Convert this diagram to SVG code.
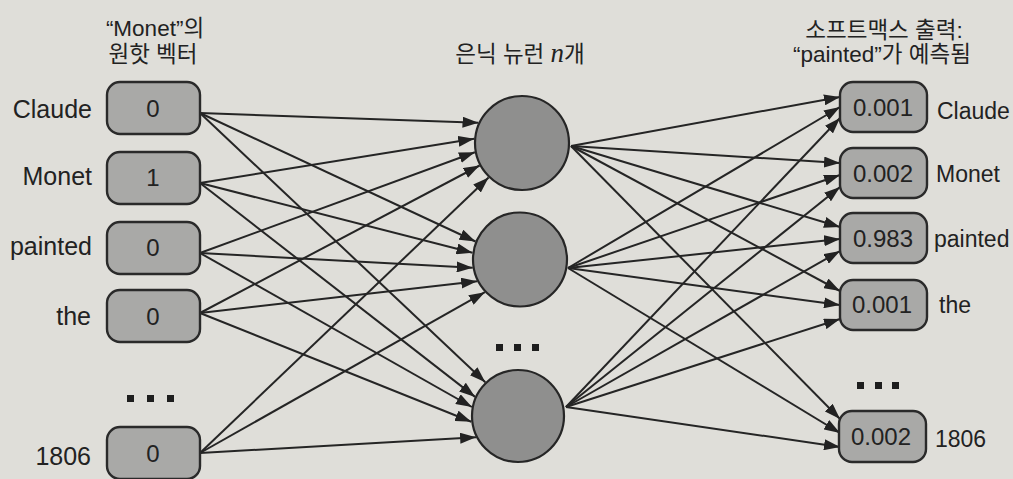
<svg xmlns="http://www.w3.org/2000/svg" width="1013" height="479" viewBox="0 0 1013 479">
<defs>
<style>
.bg{fill:#dfded9}
.box{fill:#a9a9a7;stroke:#2a2a2a;stroke-width:2.4}
.neuron{fill:#8f8f8e;stroke:#262626;stroke-width:2.2}
.c line{stroke:#252525;stroke-width:2;marker-end:url(#ah)}
text{font-family:"Liberation Sans","Noto Sans CJK KR",sans-serif;fill:#222}
.lbl{font-size:25px;text-anchor:end}
.rl{font-size:23px}
.val{font-size:24px;text-anchor:middle}
.title{font-size:22.5px;text-anchor:middle}
.it{font-family:"Liberation Serif",serif;font-style:italic;font-size:27px}
.dot{fill:#1e1e1e}
</style>
<marker id="ah" markerUnits="userSpaceOnUse" markerWidth="16" markerHeight="11" refX="16" refY="5.5" orient="auto">
<path d="M0,0 L16,5.5 L0,11 z" fill="#222"/>
</marker>
</defs>
<rect class="bg" x="0" y="0" width="1013" height="479"/>

<g id="titles">
<text class="title" x="155" y="36">“Monet”의</text>
<text class="title" x="153" y="62">원핫 벡터</text>
<text class="title" x="520" y="62">은닉 뉴런 <tspan class="it">n</tspan>개</text>
<text class="title" x="884" y="38">소프트맥스 출력:</text>
<text class="title" x="882" y="62">“painted”가 예측됨</text>
</g>

<g id="connectors" class="c">
<!-- input to hidden 1 -->
<line x1="200" y1="113" x2="478.5" y2="122.7"/>
<line x1="200" y1="183" x2="474.2" y2="138.8"/>
<line x1="200" y1="253" x2="474.9" y2="152.2"/>
<line x1="200" y1="313" x2="479.6" y2="165.5"/>
<line x1="200" y1="453" x2="488.6" y2="177.5"/>
<!-- input to hidden 2 -->
<line x1="200" y1="113" x2="475.5" y2="241.5"/>
<line x1="200" y1="183" x2="472.5" y2="252.8"/>
<line x1="200" y1="253" x2="472.7" y2="267.8"/>
<line x1="200" y1="313" x2="477.2" y2="281.3"/>
<line x1="200" y1="453" x2="484.9" y2="292.2"/>
<!-- input to hidden 3 -->
<line x1="200" y1="113" x2="485.3" y2="382.2"/>
<line x1="200" y1="183" x2="475.1" y2="396.9"/>
<line x1="200" y1="253" x2="471.9" y2="407"/>
<line x1="200" y1="313" x2="471.3" y2="421.7"/>
<line x1="200" y1="453" x2="476.1" y2="437.3"/>
<!-- hidden 1 to output -->
<line x1="571" y1="146" x2="840" y2="97"/>
<line x1="571" y1="146" x2="840" y2="163"/>
<line x1="571" y1="146" x2="840" y2="227"/>
<line x1="571" y1="146" x2="840" y2="291"/>
<line x1="571" y1="146" x2="840" y2="419"/>
<!-- hidden 2 to output -->
<line x1="568" y1="268" x2="840" y2="107"/>
<line x1="568" y1="268" x2="840" y2="175"/>
<line x1="568" y1="268" x2="840" y2="239"/>
<line x1="568" y1="268" x2="840" y2="305"/>
<line x1="568" y1="268" x2="840" y2="433"/>
<!-- hidden 3 to output -->
<line x1="566" y1="407" x2="840" y2="118"/>
<line x1="566" y1="407" x2="840" y2="187"/>
<line x1="566" y1="407" x2="840" y2="251"/>
<line x1="566" y1="407" x2="840" y2="319"/>
<line x1="566" y1="407" x2="840" y2="447"/>
</g>

<g id="in-claude"><rect class="box" x="107" y="82" width="93" height="52" rx="13"/><text class="val" x="153" y="117">0</text><text class="lbl" x="92" y="118">Claude</text></g>
<g id="in-monet"><rect class="box" x="107" y="152" width="93" height="52" rx="13"/><text class="val" x="153" y="186">1</text><text class="lbl" x="92" y="185">Monet</text></g>
<g id="in-painted"><rect class="box" x="107" y="222" width="93" height="52" rx="13"/><text class="val" x="153" y="256">0</text><text class="lbl" x="92" y="255">painted</text></g>
<g id="in-the"><rect class="box" x="107" y="290" width="93" height="52" rx="13"/><text class="val" x="153" y="325">0</text><text class="lbl" x="91" y="325">the</text></g>
<g id="in-dots"><rect class="dot" x="127" y="395" width="7" height="7"/><rect class="dot" x="147" y="395" width="7" height="7"/><rect class="dot" x="167" y="395" width="7" height="7"/></g>
<g id="in-1806"><rect class="box" x="107" y="427" width="93" height="52" rx="13"/><text class="val" x="153" y="462">0</text><text class="lbl" x="91" y="465">1806</text></g>

<g id="hidden-1"><circle class="neuron" cx="522" cy="143" r="47"/></g>
<g id="hidden-2"><circle class="neuron" cx="520" cy="259.5" r="47"/></g>
<g id="hidden-dots"><rect class="dot" x="496" y="344" width="7" height="7"/><rect class="dot" x="514" y="344" width="7" height="7"/><rect class="dot" x="532" y="344" width="7" height="7"/></g>
<g id="hidden-3"><circle class="neuron" cx="518" cy="416" r="46"/></g>

<g id="out-claude"><rect class="box" x="840" y="82" width="87" height="50" rx="13"/><text class="val" x="883" y="116">0.001</text><text class="rl" x="937" y="119">Claude</text></g>
<g id="out-monet"><rect class="box" x="840" y="148" width="87" height="50" rx="13"/><text class="val" x="883" y="182">0.002</text><text class="rl" x="936" y="182">Monet</text></g>
<g id="out-painted"><rect class="box" x="840" y="213" width="87" height="50" rx="13"/><text class="val" x="883" y="247">0.983</text><text class="rl" x="934" y="247">painted</text></g>
<g id="out-the"><rect class="box" x="840" y="280" width="87" height="50" rx="13"/><text class="val" x="882" y="313">0.001</text><text class="rl" x="939" y="313">the</text></g>
<g id="out-dots"><rect class="dot" x="857" y="382" width="7" height="7"/><rect class="dot" x="875" y="382" width="7" height="7"/><rect class="dot" x="892" y="382" width="7" height="7"/></g>
<g id="out-1806"><rect class="box" x="839" y="411" width="87" height="51" rx="13"/><text class="val" x="881" y="445">0.002</text><text class="rl" x="935" y="447">1806</text></g>
</svg>
